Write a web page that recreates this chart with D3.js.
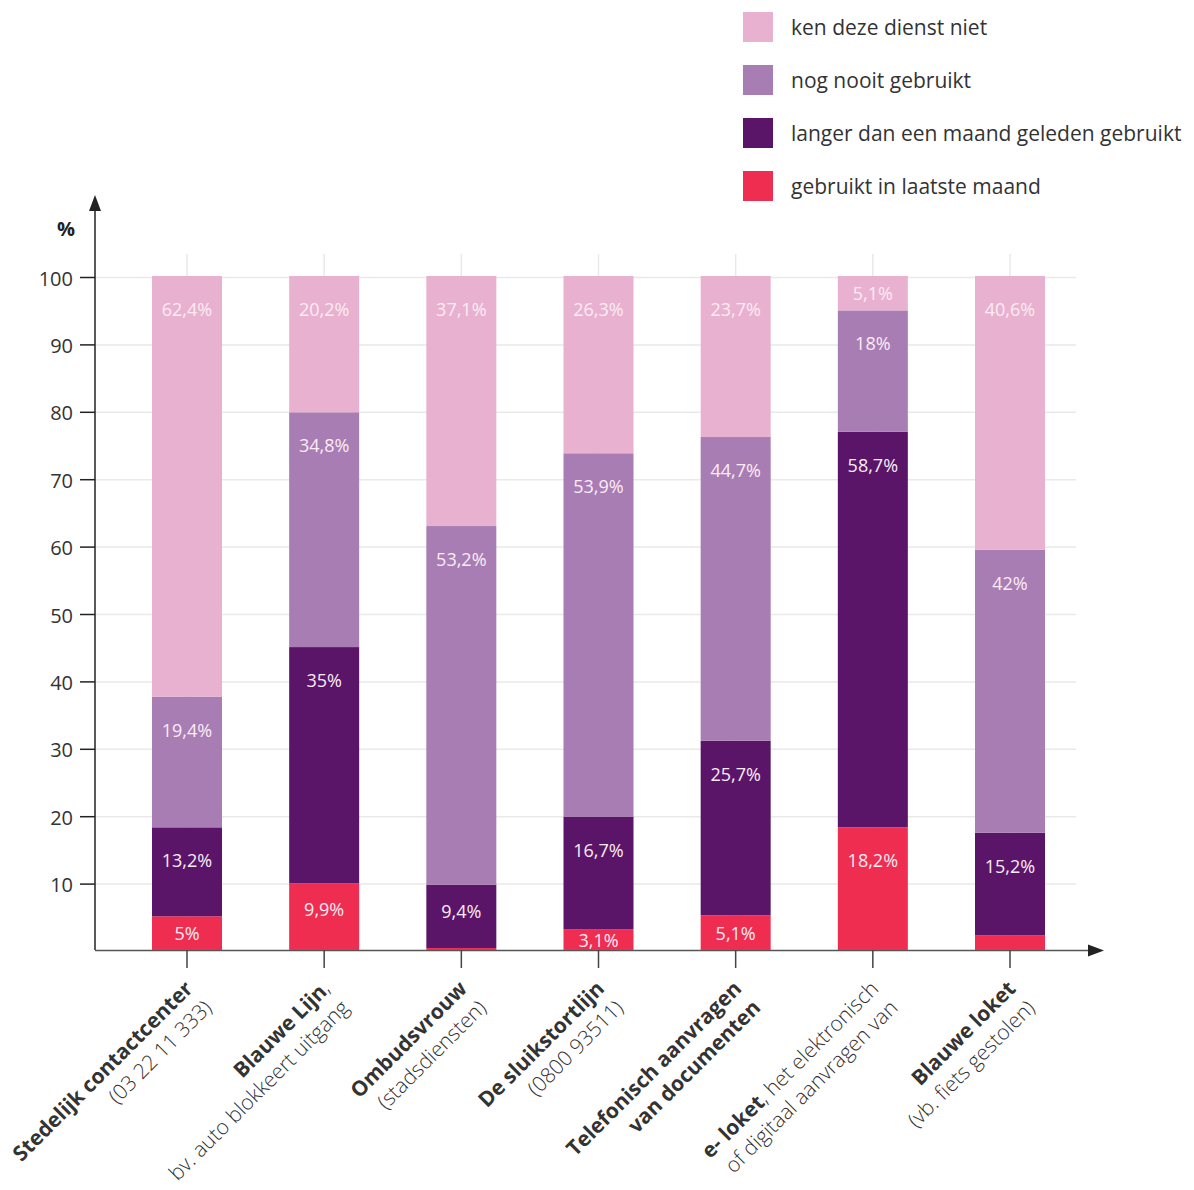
<!DOCTYPE html>
<html>
<head>
<meta charset="utf-8">
<script src="https://cdn.jsdelivr.net/npm/d3@7"></script>
<style>
  html, body { margin: 0; padding: 0; background: #fff; }
  svg { display: block; font-family: "Open Sans", "Noto Sans", sans-serif; }
</style>
</head>
<body>
<svg id="chart" width="1194" height="1190"></svg>
<script>
// ---- data ----
const categories = ["Stedelijk contactcenter", "Blauwe Lijn", "Ombudsvrouw", "De sluikstortlijn", "Telefonisch aanvragen van documenten", "e- loket", "Blauwe loket"];
const line1Bold = ["Stedelijk contactcenter", "Blauwe Lijn", "Ombudsvrouw", "De sluikstortlijn", "Telefonisch aanvragen", "e- loket", "Blauwe loket"];
const line1Rest = ["", ",", "", "", "", ", het elektronisch", ""];
const line2Bold = ["", "", "", "", "van documenten", "", ""];
const line2Rest = ["(03 22 11 333)", "bv. auto blokkeert uitgang", "(stadsdiensten)", "(0800 93511)", "", "of digitaal aanvragen van", "(vb. fiets gestolen)"];

const seriesNames = ["gebruikt in laatste maand", "langer dan een maand geleden gebruikt", "nog nooit gebruikt", "ken deze dienst niet"];
const recentUse = [5, 9.9, 0.3, 3.1, 5.1, 18.2, 2.2];
const olderUse = [13.2, 35, 9.4, 16.7, 25.7, 58.7, 15.2];
const neverUsed = [19.4, 34.8, 53.2, 53.9, 44.7, 18, 42];
const unknownService = [62.4, 20.2, 37.1, 26.3, 23.7, 5.1, 40.6];
const seriesColors = ["#ef2d51", "#5a1569", "#a87db3", "#e9b1d0"];
const yTicks = [10, 20, 30, 40, 50, 60, 70, 80, 90, 100];

// ---- layout ----
const svg = d3.select("#chart");
const axisX = 95, axisY = 950;
const x = d3.scalePoint().domain(categories).range([187, 1010]);
const y = d3.scaleLinear().domain([0, 100]).range([950, 276]);
const barW = 70;

const rows = categories.map((c, i) => ({
  cat: c,
  [seriesNames[0]]: recentUse[i],
  [seriesNames[1]]: olderUse[i],
  [seriesNames[2]]: neverUsed[i],
  [seriesNames[3]]: unknownService[i]
}));
// percentage-stacked: each bar fills to 100%
const stacked = d3.stack().keys(seriesNames).offset(d3.stackOffsetExpand)(rows);

// grid
const grid = svg.append("g");
grid.selectAll("line.h").data(yTicks).join("line")
  .attr("x1", axisX).attr("x2", 1076)
  .attr("y1", d => y(d) + 1.5).attr("y2", d => y(d) + 1.5)
  .attr("stroke", "#e9e9e9").attr("stroke-width", 1.5);
grid.selectAll("line.v").data(categories).join("line")
  .attr("x1", d => x(d)).attr("x2", d => x(d))
  .attr("y1", 254).attr("y2", axisY)
  .attr("stroke", "#e9e9e9").attr("stroke-width", 1.5);

// axes
const axisColor = "#222";
svg.append("line").attr("x1", axisX).attr("x2", axisX).attr("y1", axisY).attr("y2", 210)
  .attr("stroke", axisColor).attr("stroke-width", 1.5);
svg.append("path").attr("d", `M${axisX - 6},211 L${axisX},195 L${axisX + 6},211 Z`).attr("fill", axisColor);
svg.append("line").attr("x1", axisX).attr("x2", 1090).attr("y1", axisY + 0.5).attr("y2", axisY + 0.5)
  .attr("stroke", "#555").attr("stroke-width", 1.5);
svg.append("path").attr("d", `M1088,${axisY - 5.5} L1104,${axisY + 0.5} L1088,${axisY + 6.5} Z`).attr("fill", axisColor);

// y ticks
const yt = svg.append("g");
yt.selectAll("line").data(yTicks).join("line")
  .attr("x1", 80).attr("x2", axisX)
  .attr("y1", d => y(d) + 1.5).attr("y2", d => y(d) + 1.5)
  .attr("stroke", axisColor).attr("stroke-width", 1.5);
yt.selectAll("text").data(yTicks).join("text")
  .attr("x", 73).attr("y", d => y(d) + 2)
  .attr("text-anchor", "end").attr("dominant-baseline", "central")
  .attr("font-size", 20).attr("fill", "#333").text(d => d);
svg.append("text").attr("x", 66).attr("y", 228).attr("text-anchor", "middle")
  .attr("dominant-baseline", "central").attr("font-size", 20).attr("font-weight", 700)
  .attr("fill", "#222").text("%");

// x ticks
svg.append("g").selectAll("line").data(categories).join("line")
  .attr("x1", d => x(d)).attr("x2", d => x(d))
  .attr("y1", axisY).attr("y2", axisY + 18)
  .attr("stroke", "#444").attr("stroke-width", 1.5);

// bars
const barsG = svg.append("g");
stacked.forEach((layer, li) => {
  barsG.selectAll(null).data(layer).join("rect")
    .attr("x", d => x(d.data.cat) - barW / 2)
    .attr("width", barW)
    .attr("y", d => y(d[1] * 100))
    .attr("height", d => y(d[0] * 100) - y(d[1] * 100))
    .attr("fill", seriesColors[li]);
});

// value labels
const fmt = v => String(v).replace(".", ",") + "%";
stacked.forEach((layer) => {
  const key = layer.key;
  barsG.selectAll(null).data(layer.filter(d => d.data[key] >= 3)).join("text")
    .attr("x", d => x(d.data.cat))
    .attr("y", d => {
      const top = y(d[1] * 100), h = y(d[0] * 100) - y(d[1] * 100);
      const off = h > 80 ? 33 : (h > 50 ? 26 : h / 2);
      return top + off;
    })
    .attr("text-anchor", "middle").attr("dominant-baseline", "central")
    .attr("font-size", 18).attr("fill", "#fbecf4")
    .text(d => fmt(d.data[key]));
});

// x labels
const xl = svg.append("g");
categories.forEach((c, i) => {
  const g = xl.append("g").attr("transform", `translate(${x(c) + 7},${axisY + 40}) rotate(-45)`);
  const t1 = g.append("text").attr("text-anchor", "end").attr("font-size", 21).attr("fill", "#333");
  t1.append("tspan").attr("font-weight", 700).text(line1Bold[i]);
  if (line1Rest[i]) t1.append("tspan").attr("font-weight", 300).text(line1Rest[i]);
  const t2 = g.append("text").attr("y", 27).attr("text-anchor", "end").attr("font-size", 21).attr("fill", "#333");
  if (line2Bold[i]) t2.append("tspan").attr("font-weight", 700).text(line2Bold[i]);
  if (line2Rest[i]) t2.append("tspan").attr("font-weight", 300).text(line2Rest[i]);
});

// legend
const legendOrder = [3, 2, 1, 0];
const lg = svg.append("g");
legendOrder.forEach((si, k) => {
  lg.append("rect").attr("x", 743).attr("y", 12 + 53 * k).attr("width", 30).attr("height", 30)
    .attr("fill", seriesColors[si]);
  lg.append("text").attr("x", 791).attr("y", 27 + 53 * k).attr("dominant-baseline", "central")
    .attr("font-size", 21).attr("fill", "#333").text(seriesNames[si]);
});
</script>
</body>
</html>
